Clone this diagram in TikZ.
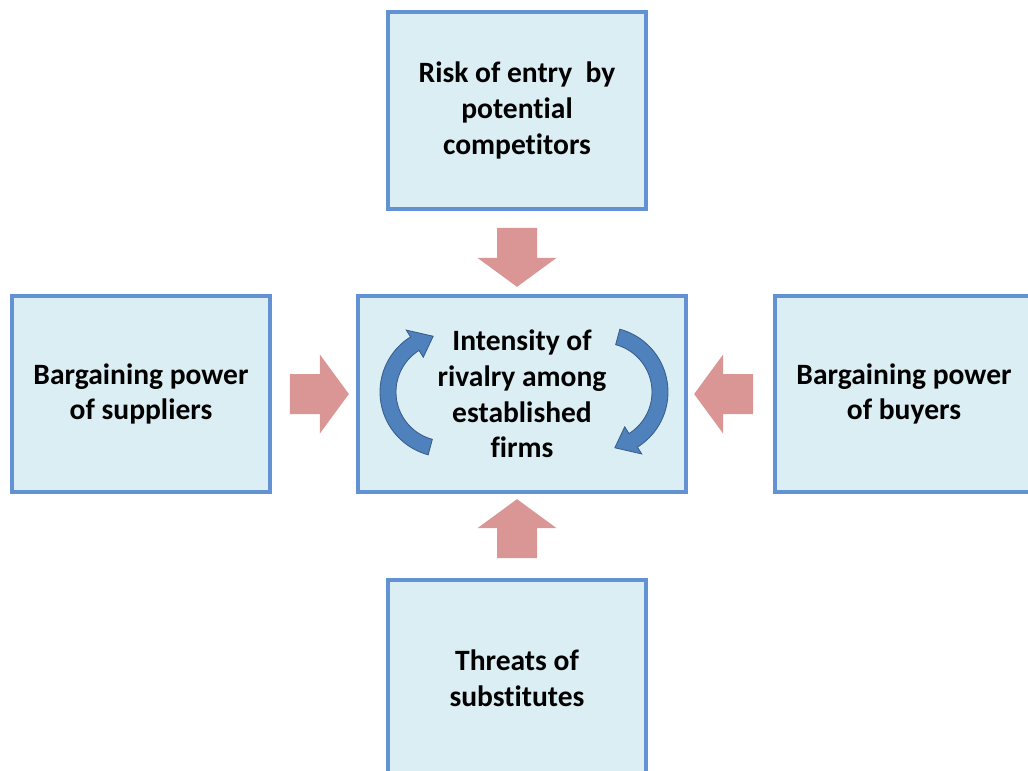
\documentclass[tikz,border=0pt]{standalone}
\usepackage{fontspec}
\setmainfont{Carlito}[Ligatures=NoCommon]
\usetikzlibrary{positioning}
\usetikzlibrary{calc}
\definecolor{boxfill}{RGB}{219,238,244}
\definecolor{boxline}{RGB}{98,146,212}
\definecolor{pinkarrow}{RGB}{217,150,148}
\definecolor{bluecurl}{RGB}{79,129,189}
\definecolor{bluecurlline}{RGB}{56,93,138}

\begin{document}
\begin{tikzpicture}[x=0.025cm, y=-0.025cm,
force/.style={draw=boxline, line width=2.6pt, fill=boxfill, minimum width=6.45cm, minimum height=4.925cm, align=center, font=\fontsize{21}{25.3}\selectfont\bfseries, inner sep=0pt},
fatarrow/.pic={\fill[pinkarrow] (0,-20) -- (30,-20) -- (30,-39.5) -- (59,0) -- (30,39.5) -- (30,20) -- (0,20) -- cycle;}]
\useasboundingbox (0,0) rectangle (1028,771);
\fill[white] (0,0) rectangle (1028,771);
\clip (0,0) rectangle (1028,771);

% the five forces
\node [force] (entry) at (517,110.5) {Risk of entry~ by\\potential\\competitors};
\node [force, minimum width=8.2cm, minimum height=4.9cm] (rivalry) at (522,394) {Intensity of\\rivalry among\\established\\firms};
\node [force, minimum height=4.9cm] (suppliers) at (141,394) {Bargaining power\\of suppliers};
\node [force, minimum height=4.9cm] (buyers) at (904,394) {Bargaining power\\of buyers};
\node [force] (substitutes) at (517,678.5) {Threats of\\substitutes};

% block arrows into the middle
\pic [rotate=-90] at ($(entry.south)+(0,17)$) {fatarrow};
\pic at ($(suppliers.east)+(18,0)$) {fatarrow};
\pic [rotate=180] at ($(buyers.west)+(-20,0)$) {fatarrow};
\pic [rotate=90] at ($(substitutes.north)+(0,-20)$) {fatarrow};

% curved arrows round the rivalry text
\foreach \cx/\off in {445/0, 603/180}{
\filldraw[fill=bluecurl, draw=bluecurlline, line width=0.6pt]
  plot[domain={105+\off}:{238+\off}, samples=40] ({\cx+65*cos(\x)},{392+65*sin(\x)})
  -- ({\cx+73*cos(238+\off)},{392+73*sin(238+\off)})
  -- ({\cx+57*cos(258+\off)},{392+57*sin(258+\off)})
  -- ({\cx+41*cos(238+\off)},{392+41*sin(238+\off)})
  -- plot[domain={238+\off}:{105+\off}, samples=40] ({\cx+49*cos(\x)},{392+49*sin(\x)})
  -- cycle;
}
\end{tikzpicture}
\end{document}
